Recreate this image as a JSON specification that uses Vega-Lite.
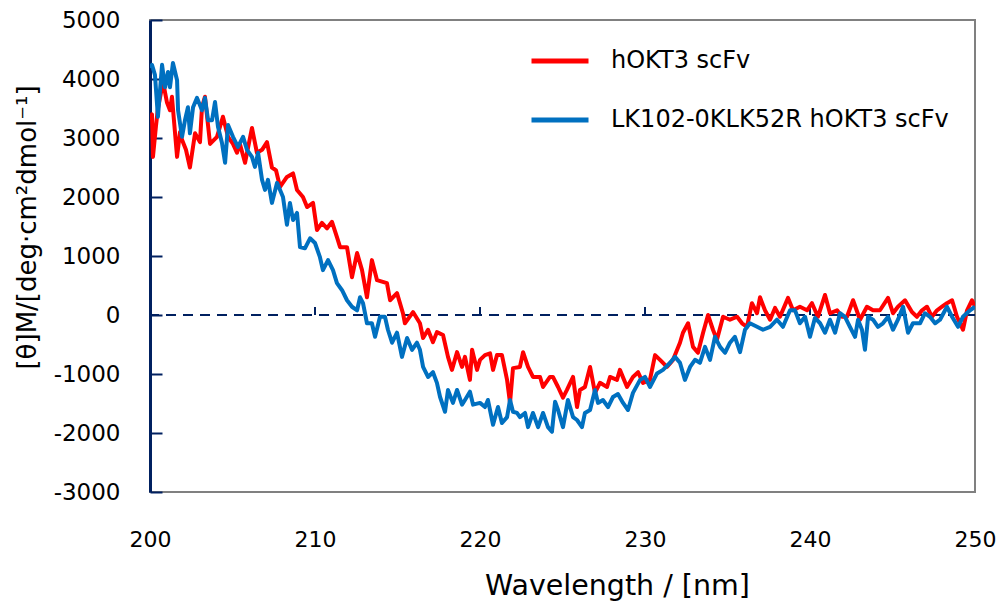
{
  "$schema": "https://vega.github.io/schema/vega-lite/v6.json",
  "autosize": {"type": "none"},
  "width": 825,
  "height": 472,
  "padding": {"left": 150, "top": 20, "right": 25, "bottom": 114},
  "background": "white",
  "config": {
    "view": {"stroke": "#808080", "strokeWidth": 2},
    "axis": {"grid": false, "labelFont": "DejaVu Sans", "titleFont": "DejaVu Sans", "labelColor": "#000000", "titleColor": "#000000", "titleFontWeight": "normal"},
    "legend": {"labelFont": "DejaVu Sans"}
  },
  "datasets": {
    "red": [
      {"w":200.0,"v":3300},{"w":200.12,"v":3400},{"w":200.18,"v":2680},{"w":200.36,"v":3200},{"w":200.48,"v":3500},
      {"w":200.79,"v":3950},{"w":201.03,"v":3600},{"w":201.21,"v":3470},{"w":201.33,"v":3700},{"w":201.64,"v":2680},
      {"w":201.82,"v":3100},{"w":201.94,"v":2970},{"w":202.18,"v":2800},{"w":202.42,"v":2500},{"w":202.73,"v":3080},
      {"w":203.03,"v":2930},{"w":203.15,"v":3520},{"w":203.33,"v":3700},{"w":203.64,"v":2900},{"w":204.06,"v":3020},
      {"w":204.42,"v":3360},{"w":204.73,"v":3020},{"w":205.03,"v":2900},{"w":205.27,"v":2750},{"w":205.45,"v":2900},
      {"w":205.76,"v":2580},{"w":206.18,"v":3170},{"w":206.48,"v":2750},{"w":206.79,"v":2800},{"w":207.09,"v":2930},
      {"w":207.39,"v":2500},{"w":207.64,"v":2450},{"w":207.88,"v":2170},{"w":208.30,"v":2340},{"w":208.67,"v":2400},
      {"w":208.91,"v":2120},{"w":209.27,"v":2000},{"w":209.52,"v":1830},{"w":209.88,"v":1900},{"w":210.12,"v":1440},
      {"w":210.42,"v":1560},{"w":210.73,"v":1470},{"w":211.03,"v":1580},{"w":211.33,"v":1320},{"w":211.52,"v":1150},
      {"w":211.94,"v":1150},{"w":212.24,"v":640},{"w":212.55,"v":1050},{"w":212.85,"v":760},{"w":213.15,"v":300},
      {"w":213.45,"v":930},{"w":213.76,"v":590},{"w":214.36,"v":540},{"w":214.55,"v":250},{"w":214.97,"v":370},
      {"w":215.33,"v":30},{"w":215.45,"v":-140},{"w":215.94,"v":50},{"w":216.36,"v":-140},{"w":216.55,"v":-390},
      {"w":216.85,"v":-250},{"w":217.15,"v":-460},{"w":217.39,"v":-290},{"w":217.76,"v":-340},{"w":218.06,"v":-710},
      {"w":218.30,"v":-930},{"w":218.61,"v":-630},{"w":218.91,"v":-880},{"w":219.09,"v":-710},{"w":219.39,"v":-1100},
      {"w":219.52,"v":-590},{"w":219.82,"v":-930},{"w":220.00,"v":-760},{"w":220.30,"v":-680},{"w":220.61,"v":-650},
      {"w":220.79,"v":-930},{"w":221.03,"v":-680},{"w":221.33,"v":-680},{"w":221.64,"v":-1100},{"w":221.82,"v":-1490},
      {"w":222.00,"v":-900},{"w":222.42,"v":-880},{"w":222.61,"v":-630},{"w":222.91,"v":-880},{"w":223.21,"v":-1050},
      {"w":223.64,"v":-1050},{"w":223.82,"v":-1220},{"w":224.24,"v":-1050},{"w":224.42,"v":-1050},{"w":224.73,"v":-1220},
      {"w":225.03,"v":-1400},{"w":225.27,"v":-1270},{"w":225.64,"v":-1050},{"w":225.88,"v":-1560},{"w":226.06,"v":-1270},
      {"w":226.36,"v":-1220},{"w":226.67,"v":-880},{"w":226.97,"v":-1320},{"w":227.27,"v":-1150},{"w":227.70,"v":-1220},
      {"w":227.88,"v":-1050},{"w":228.30,"v":-1100},{"w":228.48,"v":-930},{"w":228.91,"v":-1220},{"w":229.27,"v":-1050},
      {"w":229.58,"v":-970},{"w":229.88,"v":-1150},{"w":230.30,"v":-1100},{"w":230.61,"v":-680},{"w":230.91,"v":-760},
      {"w":231.33,"v":-880},{"w":231.70,"v":-760},{"w":232.12,"v":-470},{"w":232.30,"v":-300},{"w":232.61,"v":-140},
      {"w":232.91,"v":-540},{"w":233.21,"v":-640},{"w":233.52,"v":-300},{"w":233.82,"v":0},{"w":234.12,"v":-250},
      {"w":234.36,"v":-420},{"w":234.73,"v":-30},{"w":235.15,"v":-80},{"w":235.58,"v":-30},{"w":235.88,"v":-140},
      {"w":236.18,"v":-200},{"w":236.48,"v":200},{"w":236.79,"v":30},{"w":236.97,"v":300},{"w":237.27,"v":80},
      {"w":237.58,"v":-80},{"w":237.88,"v":120},{"w":238.18,"v":-30},{"w":238.67,"v":290},{"w":238.97,"v":80},
      {"w":239.39,"v":140},{"w":239.82,"v":80},{"w":240.12,"v":200},{"w":240.48,"v":-30},{"w":240.91,"v":340},
      {"w":241.21,"v":30},{"w":241.64,"v":80},{"w":241.94,"v":-30},{"w":242.24,"v":-30},{"w":242.61,"v":250},
      {"w":243.03,"v":-80},{"w":243.45,"v":140},{"w":243.82,"v":80},{"w":244.24,"v":80},{"w":244.73,"v":290},
      {"w":245.03,"v":30},{"w":245.33,"v":140},{"w":245.76,"v":250},{"w":246.18,"v":50},{"w":246.48,"v":-30},
      {"w":246.79,"v":80},{"w":247.09,"v":140},{"w":247.39,"v":-30},{"w":247.70,"v":80},{"w":248.00,"v":140},
      {"w":248.30,"v":200},{"w":248.61,"v":250},{"w":248.91,"v":-30},{"w":249.27,"v":-250},{"w":249.52,"v":80},
      {"w":249.82,"v":250},{"w":250.00,"v":140}
    ],
    "blue": [
      {"w":200.0,"v":4190},{"w":200.12,"v":4240},{"w":200.30,"v":4070},{"w":200.48,"v":3360},{"w":200.73,"v":4240},
      {"w":200.91,"v":3860},{"w":201.09,"v":4120},{"w":201.21,"v":3860},{"w":201.39,"v":4270},{"w":201.64,"v":3980},
      {"w":201.70,"v":3470},{"w":201.94,"v":3020},{"w":202.12,"v":3300},{"w":202.30,"v":3520},{"w":202.42,"v":3080},
      {"w":202.61,"v":3520},{"w":202.85,"v":3680},{"w":203.15,"v":3470},{"w":203.33,"v":3680},{"w":203.52,"v":3300},
      {"w":203.76,"v":3300},{"w":203.94,"v":3610},{"w":204.12,"v":3190},{"w":204.36,"v":2920},{"w":204.55,"v":2580},
      {"w":204.73,"v":3220},{"w":205.03,"v":3020},{"w":205.33,"v":2850},{"w":205.64,"v":3020},{"w":205.88,"v":2800},
      {"w":206.18,"v":2680},{"w":206.36,"v":2510},{"w":206.55,"v":2750},{"w":206.79,"v":2290},{"w":206.97,"v":2120},
      {"w":207.15,"v":2290},{"w":207.39,"v":1900},{"w":207.70,"v":2240},{"w":208.06,"v":2000},{"w":208.30,"v":1530},
      {"w":208.48,"v":1900},{"w":208.67,"v":1610},{"w":208.91,"v":1730},{"w":209.09,"v":1150},{"w":209.39,"v":1130},
      {"w":209.70,"v":1300},{"w":210.00,"v":1220},{"w":210.30,"v":980},{"w":210.48,"v":760},{"w":210.79,"v":930},
      {"w":211.09,"v":760},{"w":211.33,"v":540},{"w":211.64,"v":420},{"w":211.94,"v":250},{"w":212.24,"v":140},
      {"w":212.55,"v":80},{"w":212.73,"v":300},{"w":212.91,"v":200},{"w":213.15,"v":-140},{"w":213.45,"v":-140},
      {"w":213.64,"v":-370},{"w":213.94,"v":-30},{"w":214.24,"v":-30},{"w":214.42,"v":-250},{"w":214.67,"v":-470},
      {"w":214.97,"v":-300},{"w":215.27,"v":-710},{"w":215.58,"v":-390},{"w":215.88,"v":-590},{"w":216.18,"v":-470},
      {"w":216.36,"v":-590},{"w":216.55,"v":-880},{"w":216.85,"v":-1050},{"w":217.15,"v":-970},{"w":217.39,"v":-1150},
      {"w":217.58,"v":-1390},{"w":217.88,"v":-1640},{"w":218.06,"v":-1270},{"w":218.36,"v":-1490},{"w":218.61,"v":-1270},
      {"w":218.91,"v":-1520},{"w":219.09,"v":-1440},{"w":219.39,"v":-1300},{"w":219.58,"v":-1520},{"w":220.00,"v":-1490},
      {"w":220.30,"v":-1560},{"w":220.48,"v":-1440},{"w":220.79,"v":-1860},{"w":221.09,"v":-1560},{"w":221.33,"v":-1830},
      {"w":221.64,"v":-1730},{"w":221.82,"v":-1440},{"w":222.00,"v":-1640},{"w":222.24,"v":-1660},{"w":222.42,"v":-1730},
      {"w":222.73,"v":-1660},{"w":222.91,"v":-1900},{"w":223.21,"v":-1660},{"w":223.52,"v":-1900},{"w":223.82,"v":-1660},
      {"w":224.12,"v":-1900},{"w":224.36,"v":-1980},{"w":224.55,"v":-1470},{"w":224.73,"v":-1610},{"w":225.03,"v":-1900},
      {"w":225.33,"v":-1440},{"w":225.64,"v":-1730},{"w":225.88,"v":-1780},{"w":226.18,"v":-1900},{"w":226.36,"v":-1660},
      {"w":226.67,"v":-1610},{"w":226.97,"v":-1270},{"w":227.15,"v":-1490},{"w":227.45,"v":-1440},{"w":227.76,"v":-1560},
      {"w":228.06,"v":-1390},{"w":228.36,"v":-1340},{"w":228.67,"v":-1490},{"w":228.97,"v":-1610},{"w":229.27,"v":-1320},
      {"w":229.70,"v":-1100},{"w":230.00,"v":-1050},{"w":230.30,"v":-1220},{"w":230.73,"v":-990},{"w":231.09,"v":-930},
      {"w":231.52,"v":-810},{"w":231.82,"v":-710},{"w":232.12,"v":-810},{"w":232.42,"v":-1100},{"w":232.73,"v":-880},
      {"w":233.03,"v":-760},{"w":233.33,"v":-810},{"w":233.64,"v":-540},{"w":233.94,"v":-760},{"w":234.24,"v":-370},
      {"w":234.55,"v":-540},{"w":234.85,"v":-640},{"w":235.15,"v":-470},{"w":235.45,"v":-370},{"w":235.76,"v":-630},
      {"w":236.06,"v":-250},{"w":236.36,"v":-140},{"w":236.79,"v":-200},{"w":237.15,"v":-250},{"w":237.58,"v":-200},
      {"w":238.00,"v":-80},{"w":238.36,"v":-200},{"w":238.79,"v":80},{"w":239.09,"v":80},{"w":239.39,"v":-140},
      {"w":239.70,"v":-30},{"w":240.00,"v":-370},{"w":240.30,"v":-50},{"w":240.61,"v":-140},{"w":240.91,"v":-300},
      {"w":241.21,"v":-80},{"w":241.52,"v":-300},{"w":241.82,"v":30},{"w":242.12,"v":-30},{"w":242.42,"v":-200},
      {"w":242.73,"v":-370},{"w":242.91,"v":-80},{"w":243.15,"v":-250},{"w":243.33,"v":-590},{"w":243.52,"v":-30},
      {"w":243.82,"v":-80},{"w":244.12,"v":-200},{"w":244.42,"v":-140},{"w":244.73,"v":-30},{"w":245.03,"v":-250},
      {"w":245.33,"v":-80},{"w":245.64,"v":140},{"w":245.94,"v":-300},{"w":246.24,"v":-140},{"w":246.67,"v":-140},
      {"w":246.97,"v":30},{"w":247.27,"v":-30},{"w":247.58,"v":-140},{"w":247.88,"v":-80},{"w":248.30,"v":140},
      {"w":248.61,"v":-30},{"w":248.97,"v":-200},{"w":249.27,"v":-30},{"w":249.70,"v":80},{"w":250.00,"v":140}
    ],
    "ticks": [{"t":210},{"t":220},{"t":230},{"t":240}]
  },
  "encoding": {
    "x": {
      "type": "quantitative",
      "scale": {"domain": [200, 250], "nice": false, "zero": false},
      "axis": {
        "title": "Wavelength / [nm]",
        "values": [200, 210, 220, 230, 240, 250],
        "ticks": false, "domain": false, "labelFlush": false,
        "labelFontSize": 22, "labelPadding": 37,
        "titleFontSize": 28.5, "titleX": 467, "titleY": 102, "titleBaseline": "alphabetic", "titleAlign": "center"
      }
    },
    "y": {
      "type": "quantitative",
      "scale": {"domain": [-3000, 5000], "nice": false, "zero": false},
      "axis": {
        "title": "[θ]M/[deg·cm²dmol⁻¹]",
        "values": [-3000, -2000, -1000, 0, 1000, 2000, 3000, 4000, 5000],
        "labelExpr": "'' + datum.value",
        "domainColor": "#002060", "domainWidth": 3,
        "tickColor": "#002060", "tickWidth": 2, "tickSize": -12,
        "labelFontSize": 23, "labelPadding": 42,
        "titleFontSize": 26, "titleX": -123, "titleY": 207, "titleAngle": 270, "titleBaseline": "middle", "titleAlign": "center"
      }
    }
  },
  "layer": [
    {
      "data": {"values": [{}]},
      "mark": {"type": "rule", "color": "#002060", "strokeWidth": 2, "strokeDash": [10, 7]},
      "encoding": {"y": {"datum": 0}}
    },
    {
      "data": {"name": "ticks"},
      "mark": {"type": "rule", "color": "#002060", "strokeWidth": 2},
      "encoding": {
        "x": {"field": "t"},
        "y": {"datum": 0},
        "y2": {"datum": 135}
      }
    },
    {
      "data": {"name": "red"},
      "mark": {"type": "line", "strokeWidth": 4, "strokeJoin": "round", "clip": true},
      "encoding": {
        "x": {"field": "w"},
        "y": {"field": "v"},
        "color": {
          "datum": "hOKT3 scFv",
          "scale": {"domain": ["hOKT3 scFv", "LK102-0KLK52R hOKT3 scFv"], "range": ["#FF0000", "#0070C0"]},
          "legend": {
            "title": null, "orient": "none", "legendX": 379, "legendY": 10,
            "symbolType": "stroke", "symbolSize": 3249, "symbolStrokeWidth": 5,
            "labelFontSize": 24, "labelOffset": 20, "rowPadding": 16, "padding": 0,
            "labelLimit": 500, "labelColor": "#000000"
          }
        }
      }
    },
    {
      "data": {"name": "blue"},
      "mark": {"type": "line", "strokeWidth": 4, "strokeJoin": "round", "clip": true},
      "encoding": {
        "x": {"field": "w"},
        "y": {"field": "v"},
        "color": {"datum": "LK102-0KLK52R hOKT3 scFv"}
      }
    }
  ]
}
